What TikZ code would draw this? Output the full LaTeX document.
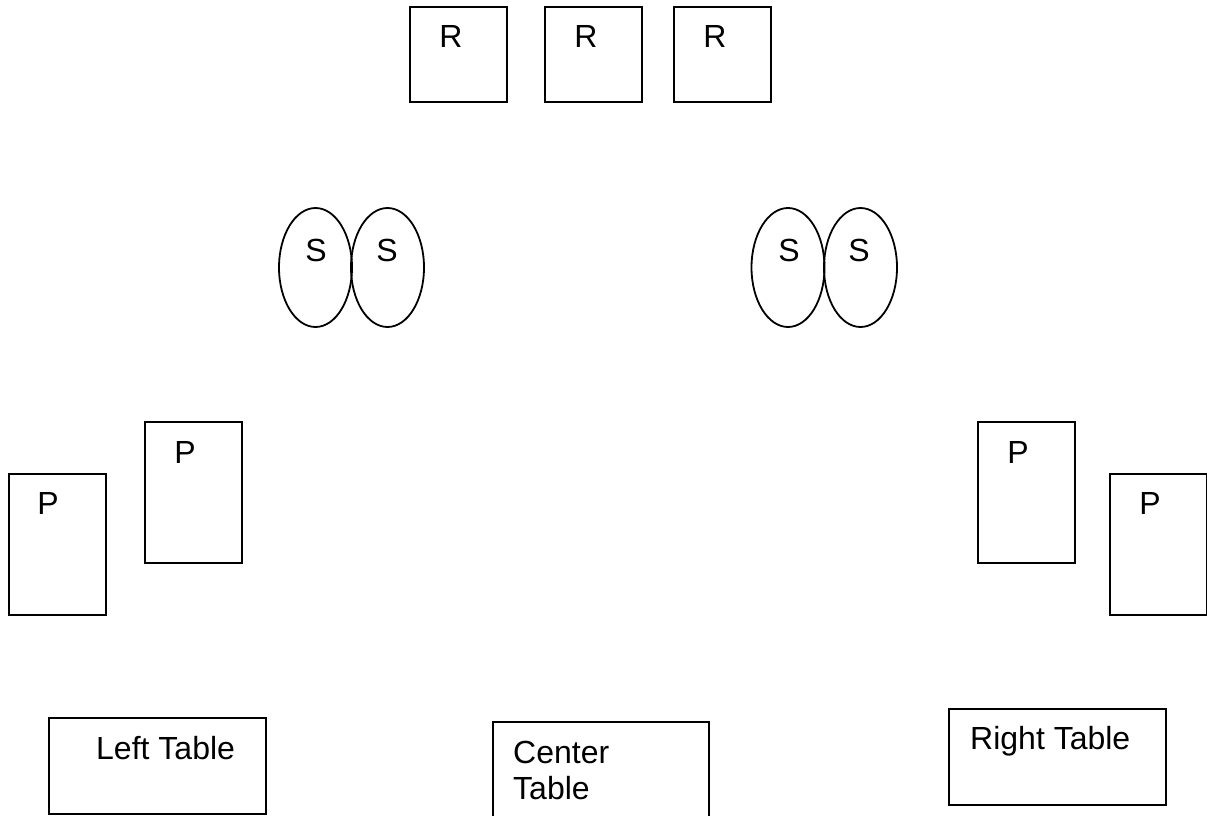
\documentclass[tikz,border=0pt]{standalone}
\usepackage{fontspec}
\setmainfont{Liberation Sans}
\usetikzlibrary{shapes.geometric}
\tikzset{
  box/.style={draw=black, line width=1.8pt, rectangle, inner sep=0pt, fill=white},
  oval/.style={draw=black, line width=1.8pt, ellipse, inner sep=0pt, minimum width=73pt, minimum height=119pt},
  lbl/.style={inner sep=0pt, font=\fontsize{32}{37}\selectfont, text=black},
}
\begin{document}
\begin{tikzpicture}[x=1pt, y=-1pt]
\clip (0,0) rectangle (1207,816);
\fill[white] (0,0) rectangle (1207,816);
% R boxes
\node[box, minimum width=97pt, minimum height=95pt] (r1) at (458.5,54.5) {};
\node[box, minimum width=97pt, minimum height=95pt] (r2) at (593.5,54.5) {};
\node[box, minimum width=97pt, minimum height=95pt] (r3) at (722.5,54.5) {};
\node[lbl, anchor=base] (r1t) at (451,48) {R};
\node[lbl, anchor=base] (r2t) at (586,48) {R};
\node[lbl, anchor=base] (r3t) at (715,48) {R};
% S ovals
\node[oval] (s1) at (315.5,267.5) {};
\node[oval] (s2) at (387.5,267.5) {};
\node[oval] (s3) at (788,267.5) {};
\node[oval] (s4) at (860.5,267.5) {};
\node[lbl, anchor=base] (s1t) at (316,261) {S};
\node[lbl, anchor=base] (s2t) at (387,261) {S};
\node[lbl, anchor=base] (s3t) at (789,261) {S};
\node[lbl, anchor=base] (s4t) at (859,261) {S};
% P boxes
\node[box, minimum width=97pt, minimum height=141pt] (p1) at (57.5,544.5) {};
\node[box, minimum width=97pt, minimum height=141pt] (p2) at (193.5,492.5) {};
\node[box, minimum width=97pt, minimum height=141pt] (p3) at (1026.5,492.5) {};
\node[box, minimum width=97pt, minimum height=141pt] (p4) at (1158.5,544.5) {};
\node[lbl, anchor=base] (p1t) at (48,514) {P};
\node[lbl, anchor=base] (p2t) at (185,463) {P};
\node[lbl, anchor=base] (p3t) at (1018,463) {P};
\node[lbl, anchor=base] (p4t) at (1150,514) {P};
% Tables
\node[box, minimum width=217pt, minimum height=96pt] (lt) at (157.5,766) {};
\node[box, minimum width=216pt, minimum height=120pt] (ct) at (601,782) {};
\node[box, minimum width=217pt, minimum height=96pt] (rt) at (1057.5,757) {};
\node[lbl, anchor=base west] (ltt) at (96,759) {Left Table};
\node[lbl, anchor=base west] (ctt1) at (513,763) {Center};
\node[lbl, anchor=base west] (ctt2) at (513,799) {Table};
\node[lbl, anchor=base west] (rtt) at (970,749) {Right Table};
\end{tikzpicture}
\end{document}
